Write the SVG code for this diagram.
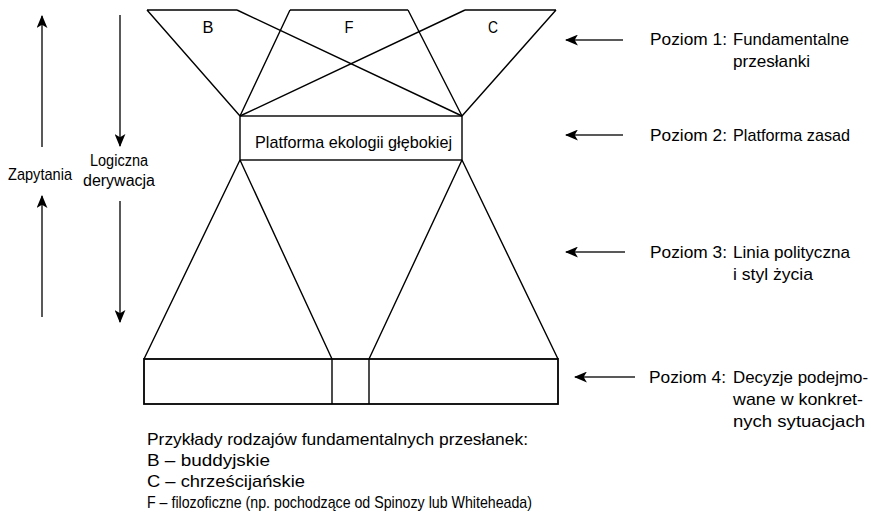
<svg xmlns="http://www.w3.org/2000/svg" width="871" height="517" viewBox="0 0 871 517">
<style>
.s{fill:none;stroke:#000;stroke-width:1.4}
.a{fill:none;stroke:#222;stroke-width:1.5}
text{font-family:"Liberation Sans",Arial,sans-serif;font-size:17px;fill:#000}
.sm{font-size:16px}
</style>
<defs>
<marker id="ah" viewBox="0 0 12 10" refX="11" refY="5" markerWidth="13" markerHeight="11" markerUnits="userSpaceOnUse" orient="auto">
<path d="M0,0 L12,5 L0,10 L3,5 z" fill="#000"/>
</marker>
</defs>
<g id="level1">
<g id="B"><path class="s" d="M147,10 H237 M147,10 L240,116 M237,10 L462,116"/><text x="208" y="33" text-anchor="middle" textLength="11" lengthAdjust="spacingAndGlyphs">B</text></g>
<g id="F"><path class="s" d="M290,10 H408 M290,10 L240,116 M408,10 L462,116"/><text x="349" y="33" text-anchor="middle" textLength="9" lengthAdjust="spacingAndGlyphs">F</text></g>
<g id="C"><path class="s" d="M465,10 H556 M465,10 L240,116 M556,10 L462,116"/><text x="493" y="33" text-anchor="middle" textLength="10" lengthAdjust="spacingAndGlyphs">C</text></g>
</g>
<g id="platform"><rect class="s" x="240" y="116" width="222" height="44"/><text x="255" y="148" textLength="197" lengthAdjust="spacingAndGlyphs">Platforma ekologii głębokiej</text></g>
<g id="level3"><path class="s" d="M240,160 L144,359 M240,160 L332,359 M462,160 L369,359 M462,160 L558,359"/></g>
<g id="level4"><rect class="s" x="144" y="359" width="414" height="45" style="stroke-width:1.8"/><path class="s" d="M332,359 V404 M369,359 V404"/></g>
<g id="connectors">
<line class="a" x1="42" y1="147" x2="42" y2="16" marker-end="url(#ah)"/>
<line class="a" x1="42" y1="317" x2="42" y2="196" marker-end="url(#ah)"/>
<line class="a" x1="120" y1="15" x2="120" y2="146" marker-end="url(#ah)"/>
<line class="a" x1="120" y1="201" x2="120" y2="322" marker-end="url(#ah)"/>
<line class="a" x1="623" y1="40" x2="566" y2="40" marker-end="url(#ah)"/>
<line class="a" x1="623" y1="135" x2="566" y2="135" marker-end="url(#ah)"/>
<line class="a" x1="625" y1="252" x2="566" y2="252" marker-end="url(#ah)"/>
<line class="a" x1="635" y1="377" x2="575" y2="377" marker-end="url(#ah)"/>
</g>
<g id="side-labels">
<text x="8" y="180" textLength="64" lengthAdjust="spacingAndGlyphs">Zapytania</text>
<text class="sm" x="90" y="166" textLength="58" lengthAdjust="spacingAndGlyphs">Logiczna</text>
<text class="sm" x="83" y="186" textLength="72" lengthAdjust="spacingAndGlyphs">derywacja</text>
</g>
<g id="poziom1"><text x="650" y="45" textLength="77" lengthAdjust="spacingAndGlyphs">Poziom 1:</text><text x="733" y="45" textLength="116" lengthAdjust="spacingAndGlyphs">Fundamentalne</text><text x="733" y="67" textLength="77" lengthAdjust="spacingAndGlyphs">przesłanki</text></g>
<g id="poziom2"><text x="650" y="141" textLength="77" lengthAdjust="spacingAndGlyphs">Poziom 2:</text><text x="733" y="141" textLength="117" lengthAdjust="spacingAndGlyphs">Platforma zasad</text></g>
<g id="poziom3"><text x="650" y="258" textLength="77" lengthAdjust="spacingAndGlyphs">Poziom 3:</text><text x="733" y="258" textLength="117" lengthAdjust="spacingAndGlyphs">Linia polityczna</text><text x="733" y="280" textLength="80" lengthAdjust="spacingAndGlyphs">i styl życia</text></g>
<g id="poziom4"><text x="649" y="383" textLength="77" lengthAdjust="spacingAndGlyphs">Poziom 4:</text><text x="733" y="383" textLength="135" lengthAdjust="spacingAndGlyphs">Decyzje podejmo-</text><text x="733" y="405" textLength="130" lengthAdjust="spacingAndGlyphs">wane w konkret-</text><text x="733" y="427" textLength="132" lengthAdjust="spacingAndGlyphs">nych sytuacjach</text></g>
<g id="legend">
<text x="147" y="445" textLength="381" lengthAdjust="spacingAndGlyphs">Przykłady rodzajów fundamentalnych przesłanek:</text>
<text x="147" y="466" textLength="123" lengthAdjust="spacingAndGlyphs">B – buddyjskie</text>
<text x="147" y="487" textLength="158" lengthAdjust="spacingAndGlyphs">C – chrześcijańskie</text>
<text x="147" y="508" textLength="385" lengthAdjust="spacingAndGlyphs">F – filozoficzne (np. pochodzące od Spinozy lub Whiteheada)</text>
</g>
</svg>
